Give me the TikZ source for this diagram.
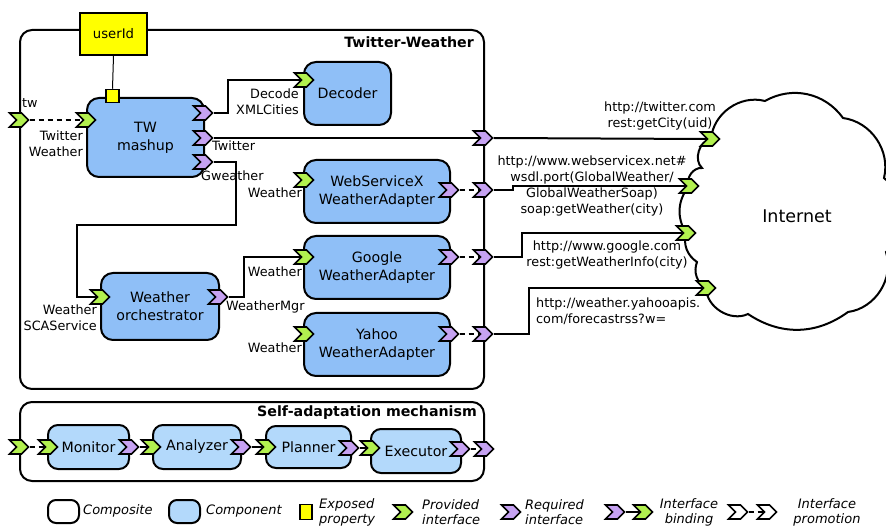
\documentclass[tikz,border=0pt]{standalone}
\usepackage{fontspec}
\setmainfont{DejaVu Sans}
\usetikzlibrary{shapes.symbols,backgrounds}
\definecolor{cblue}{HTML}{8FBFF7}
\definecolor{clight}{HTML}{B3D9FB}
\definecolor{cgreen}{HTML}{B2F04F}
\definecolor{cpurple}{HTML}{C6A2F2}
\definecolor{cyel}{HTML}{FFFF00}
\newcommand\fbig{\fontsize{14.2}{18}\selectfont}
\newcommand\flab{\fontsize{12.8}{16}\selectfont}
\newcommand\fleg{\fontsize{13}{15}\selectfont\itshape}
\tikzset{
  compo/.style={draw, line width=2pt, rounded corners=12pt, anchor=north west, inner sep=0pt},
  cmpt/.style={draw, line width=2pt, rounded corners=12pt, fill=cblue, anchor=north west, align=center, font=\fbig, inner sep=0pt},
  cmptl/.style={cmpt, fill=clight, rounded corners=10pt},
  prov/.style={signal, signal to=east, signal from=west, draw, line width=1.6pt, fill=cgreen, minimum width=19pt, minimum height=14pt, inner sep=0pt, signal pointer angle=90},
  req/.style={prov, fill=cpurple},
  lab/.style={font=\flab, inner sep=0pt},
  ttl/.style={font=\fbig\bfseries, inner sep=0pt, anchor=east},
  leg/.style={font=\fleg, inner sep=0pt},
  conn/.style={line width=2pt},
  promo/.style={line width=2pt, dash pattern=on 5pt off 4pt},
}
\begin{document}
\begin{tikzpicture}[x=1pt,y=-1pt]
\useasboundingbox (0,0) rectangle (886,526);
\clip (0,0) rectangle (886,526);

% ---------- Twitter-Weather composite
\node[compo, minimum width=464pt, minimum height=359pt] (TWc) at (19,29) {};
\node[ttl] (TWt) at (474,42) {Twitter-Weather};

\node[draw, line width=2pt, fill=cyel, minimum width=67pt, minimum height=42pt, anchor=north west, inner sep=0pt, font=\fontsize{13.2}{16}\selectfont] (uid) at (79,12) {userId};
\node[cmpt, minimum width=117pt, minimum height=79pt] (TWm) at (86,97) {TW\\mashup};
\node[draw, line width=1.5pt, fill=cyel, minimum size=13pt, inner sep=0pt] (prop) at (112.5,96) {};
\draw[line width=1pt] (uid.south) -- (prop.north);

\node[cmpt, minimum width=87pt, minimum height=63pt] (Dec) at (303,61) {Decoder};
\node[cmpt, minimum width=146pt, minimum height=63pt] (Wsx) at (303,159) {WebServiceX\\WeatherAdapter};
\node[cmpt, minimum width=146pt, minimum height=63pt] (Goo) at (303,235) {Google\\WeatherAdapter};
\node[cmpt, minimum width=146pt, minimum height=63pt] (Yah) at (303,312) {Yahoo\\WeatherAdapter};
\node[cmpt, minimum width=118pt, minimum height=67pt] (Orch) at (100,272) {Weather\\orchestrator};

% interfaces
\node[prov] (pTW) at (19,120) {};
\node[prov] (pTWm) at (86,120) {};
\node[req] (rDec) at (203,113) {};
\node[req] (rTwt) at (203,138) {};
\node[req] (rGw) at (203,162) {};
\node[prov] (pDec) at (304,80) {};
\node[prov] (pWsx) at (304,180) {};
\node[req] (rWsx) at (449,190) {};
\node[prov] (pGoo) at (304,257) {};
\node[req] (rGoo) at (449,257) {};
\node[prov] (pYah) at (304,334) {};
\node[req] (rYah) at (449,334) {};
\node[req] (bTwt) at (483,138) {};
\node[req] (bWsx) at (483,190) {};
\node[req] (bGoo) at (483,257) {};
\node[req] (bYah) at (483,334) {};
\node[prov] (pOrch) at (100,297) {};
\node[req] (rOrch) at (218,297) {};

% labels
\node[lab, anchor=west] (lTw) at (22,103) {tw};
\node[lab, anchor=east, align=right] (lTWW) at (83,143.5) {Twitter\\Weather};
\node[lab, anchor=east, align=right] (lDec) at (299,102) {Decode\\XMLCities};
\node[lab, anchor=west] (lTwt) at (212,146) {Twitter};
\node[lab, anchor=west] (lGw) at (201,176) {Gweather};
\node[lab, anchor=east] (lWsx) at (302,193) {Weather};
\node[lab, anchor=east] (lGoo) at (302,272) {Weather};
\node[lab, anchor=east] (lYah) at (302,348) {Weather};
\node[lab, anchor=east, align=right] (lOrch) at (97,317.5) {Weather\\SCAService};
\node[lab, anchor=west] (lMgr) at (226,307) {WeatherMgr};

% ---------- Internet cloud
\draw[line width=2pt, fill=white]
  (711,139) to[bend left=50] (765,101) to[bend left=42] (843,118)
  to[bend left=48] (884,178) to[bend left=50] (886,252)
  to[bend left=50] (848,312) to[bend left=35] (748,314)
  to[bend left=57] (706,288) to[bend left=40] (697,262)
  to[bend left=35] (686,233) to[bend left=35] (689,186)
  to[bend left=60] (702,168) to[bend left=65] (711,139) -- cycle;
\node[font=\fontsize{17.5}{20}\selectfont, inner sep=0pt] (inet) at (797,216) {Internet};
\node[prov] (cTwt) at (710,139) {};
\node[prov] (cWsx) at (689,186) {};
\node[prov] (cGoo) at (686,233) {};
\node[prov] (cYah) at (706,288) {};

\node[lab, align=center] (uTwt) at (660,115.5) {http://twitter.com\\rest:getCity(uid)};
\node[lab, align=center] (uWsx) at (592,185.5) {http://www.webservicex.net\#\\wsdl.port(GlobalWeather/\\GlobalWeatherSoap)\\soap:getWeather(city)};
\node[lab, align=center] (uGoo) at (607,255) {http://www.google.com\\rest:getWeatherInfo(city)};
\node[lab, align=left, anchor=west] (uYah) at (536,311) {http://weather.yahooapis.\\com/forecastrss?w=};

% ---------- Self-adaptation composite
\node[compo, minimum width=464pt, minimum height=79pt] (SAc) at (19,401) {};
\node[ttl] (SAt) at (477,413) {Self-adaptation mechanism};
\node[cmptl, minimum width=81pt, minimum height=44pt] (Mon) at (47,424) {Monitor};
\node[cmptl, minimum width=88pt, minimum height=44pt] (Ana) at (152,424) {Analyzer};
\node[cmptl, minimum width=85pt, minimum height=42pt] (Pla) at (265,425) {Planner};
\node[cmptl, minimum width=90pt, minimum height=44pt] (Exe) at (370,428) {Executor};
\node[prov] (sIn) at (19,447) {};
\node[prov] (pMon) at (48,447) {};
\node[req] (rMon) at (129,447) {};
\node[prov] (pAna) at (151,447) {};
\node[req] (rAna) at (241,447) {};
\node[prov] (pPla) at (266,447) {};
\node[req] (rPla) at (349,448) {};
\node[prov] (pExe) at (370,448) {};
\node[req] (rExe) at (460,449) {};
\node[req] (sOut) at (484,449) {};

% ---------- Legend
\node[draw, line width=2pt, rounded corners=8pt, minimum width=31pt, minimum height=23pt, anchor=north west] (lgComp) at (47,499) {};
\node[leg, anchor=west] (lgCompT) at (83,511) {Composite};
\node[draw, line width=2pt, rounded corners=8pt, fill=clight, minimum width=31pt, minimum height=23pt, anchor=north west] (lgCmp) at (168,499) {};
\node[leg, anchor=west] (lgCmpT) at (206,511) {Component};
\node[draw, line width=1.5pt, fill=cyel, minimum width=12pt, minimum height=15pt, inner sep=0pt] (lgProp) at (306,512) {};
\node[leg, anchor=west, align=left] (lgPropT) at (319,512) {Exposed\\property};
\node[prov] (lgProv) at (403,512) {};
\node[leg, anchor=west, align=left] (lgProvT) at (422,512) {Provided\\interface};
\node[req] (lgReq) at (511,512) {};
\node[leg, anchor=west, align=left] (lgReqT) at (525,512) {Required\\interface};
\node[req] (lgB1) at (615,512) {};
\node[prov] (lgB2) at (643,512) {};
\node[leg, align=center] (lgBT) at (689,512) {Interface\\binding};
\node[prov, fill=white] (lgP1) at (738,512) {};
\node[prov, fill=white] (lgP2) at (767,512) {};
\node[leg, align=center] (lgPT) at (827,512) {Interface\\promotion};

% ---------- connectors
\begin{scope}[on background layer]
\draw[promo] (pTW.east) -- (pTWm.west);
\draw[conn] (rDec.east) -- ++(14,0) |- (pDec.west);
\draw[conn] (rTwt.east) -- (bTwt.west);
\draw[conn] (bTwt.east) -- (cTwt.west);
\draw[conn] (rGw.east) -| (236,225) -- (77,225) |- (pOrch.west);
\draw[conn] (rOrch.east) -- ++(15,0) |- (pGoo.west);
\draw[promo] (rWsx.east) -- (bWsx.west);
\draw[promo] (rGoo.east) -- (bGoo.west);
\draw[promo] (rYah.east) -- (bYah.west);
\draw[conn] (bWsx.east) -- ++(19,0) |- (cWsx.west);
\draw[conn] (bGoo.east) -- ++(28,0) |- (cGoo.west);
\draw[conn] (bYah.east) -- ++(35,0) |- (cYah.west);
\draw[promo] (sIn.east) -- (pMon.west);
\draw[conn] (rMon.east) -- (pAna.west);
\draw[conn] (rAna.east) -- (pPla.west);
\draw[conn] (rPla.east) -- (pExe.west);
\draw[promo] (rExe.east) -- (sOut.west);
\draw[conn] (lgB1.east) -- (lgB2.west);
\draw[promo] (lgP1.east) -- (lgP2.west);
\end{scope}
\end{tikzpicture}
\end{document}
